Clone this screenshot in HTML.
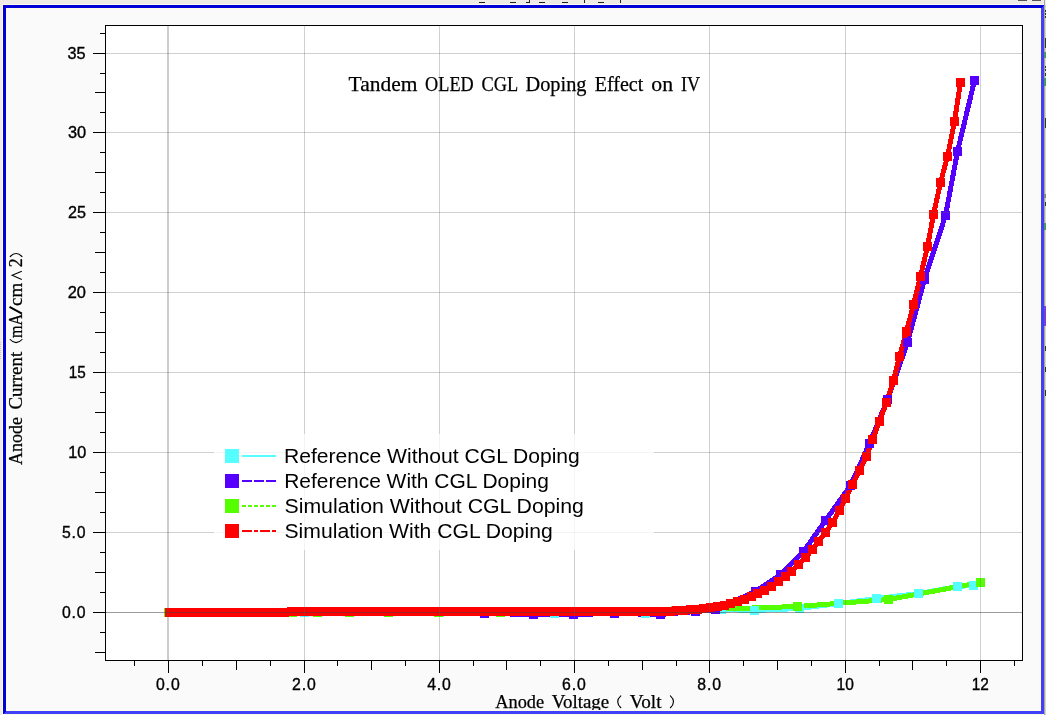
<!DOCTYPE html>
<html><head><meta charset="utf-8"><title>Tandem OLED CGL Doping Effect on IV</title>
<style>html,body{margin:0;padding:0;background:#efebe7;overflow:hidden}svg{display:block;position:absolute;left:0;top:0;will-change:transform}text{font-family:"Liberation Sans",sans-serif;fill:#000}.sf{font-family:"Liberation Serif",serif}</style></head><body>
<svg width="1046" height="715" viewBox="0 0 1046 715">
<g shape-rendering="crispEdges">
<rect x="0" y="0" width="1046" height="715" fill="#efebe7"/>
<rect x="1044" y="0" width="1" height="715" fill="#a6a6a0"/>
<rect x="1045" y="5" width="1" height="710" fill="#d9d6d0"/>
<rect x="1045" y="10" width="1" height="2" fill="#333"/>
<rect x="1045" y="13" width="1" height="2" fill="#333"/>
<rect x="1045" y="16" width="1" height="2" fill="#333"/>
<rect x="1045" y="38" width="1" height="10" fill="#333"/>
<rect x="1045" y="66" width="1" height="2" fill="#333"/>
<rect x="1045" y="69" width="1" height="2" fill="#333"/>
<rect x="1045" y="73" width="1" height="3" fill="#333"/>
<rect x="1045" y="118" width="1" height="10" fill="#333"/>
<rect x="1045" y="202" width="1" height="4" fill="#333"/>
<rect x="1045" y="346" width="1" height="5" fill="#333"/>
<rect x="1045" y="367" width="1" height="5" fill="#333"/>
<rect x="1045" y="390" width="1" height="6" fill="#333"/>
<rect x="1044" y="194" width="2" height="4" fill="#888"/>
<rect x="1044" y="52" width="2" height="6" fill="#4d9a5a"/>
<rect x="1044" y="78" width="2" height="8" fill="#4d9a5a"/>
<rect x="1044" y="223" width="2" height="7" fill="#4d9a5a"/>
<rect x="1044" y="306" width="2" height="20" fill="#7a3fd6"/>
<rect x="0" y="342" width="1" height="1" fill="#cfcbc6"/>
<rect x="0" y="344" width="1" height="1" fill="#cfcbc6"/>
<rect x="0" y="346" width="1" height="1" fill="#cfcbc6"/>
<rect x="0" y="348" width="1" height="1" fill="#cfcbc6"/>
<rect x="0" y="350" width="1" height="1" fill="#cfcbc6"/>
<rect x="0" y="352" width="1" height="1" fill="#cfcbc6"/>
<rect x="0" y="354" width="1" height="1" fill="#cfcbc6"/>
<rect x="0" y="356" width="1" height="1" fill="#cfcbc6"/>
<rect x="0" y="358" width="1" height="1" fill="#cfcbc6"/>
<rect x="479" y="2" width="6" height="1" fill="#222"/>
<rect x="510" y="2" width="6" height="1" fill="#222"/>
<rect x="539" y="2" width="6" height="1" fill="#222"/>
<rect x="562" y="2" width="6" height="1" fill="#222"/>
<rect x="598" y="2" width="6" height="1" fill="#222"/>
<rect x="584" y="0" width="1" height="3" fill="#222"/><rect x="620" y="0" width="1" height="3" fill="#222"/>
<path d="M529 0v2h-3v1h4v-3z" fill="#222"/>
<rect x="1018" y="0" width="9" height="1" fill="#555"/><rect x="1032" y="0" width="9" height="1" fill="#555"/>
<rect x="2" y="4" width="1042" height="711" fill="#fffbe9"/>
<rect x="3" y="5" width="1041" height="709" fill="#0000d8"/>
<path d="M1044 5v709h-1041l3-3h1035v-703z" fill="#4040fa"/>
<rect x="6" y="8" width="1035" height="703" fill="#fffbe9"/>
<rect x="7" y="9" width="1033" height="701" fill="#fafafa"/>
<rect x="105.5" y="25.5" width="917" height="635" fill="#fff" stroke="#000" stroke-width="1"/>
</g>
<g shape-rendering="crispEdges">
<polyline points="168.5,612.5 304.5,612.5 439.5,612.5 554.5,613.5 645.5,613.5 721.5,609.5 754.5,610.5 799.5,608.5 838.5,603.5 876.5,598.5 918.5,593.5 957.5,586.5 973.5,585.5" fill="none" stroke="#55ffff" stroke-width="5" stroke-linejoin="bevel"/>
<polyline points="168.5,612.5 236.5,612.5 304.5,611.5 372.5,611.5 439.5,611.5 484.5,613.5 533.5,614.5 573.5,614.5 614.5,613.5 660.5,614.5 695.5,611.5 715.5,609.5 755.5,591.5 780.5,574.5 803.5,551.5 825.5,520.5 850.5,485.5 869.5,443.5 887.5,399.5 907.5,342.5 924.5,279.5 945.5,215.5 957.5,151.5 974.5,80.5" fill="none" stroke="#5500ff" stroke-width="5" stroke-linejoin="bevel"/>
<polyline points="168.5,612.5 189.5,612.5 205.5,612.5 218.5,612.5 229.5,612.5 242.5,612.5 255.5,612.5 271.5,612.5 292.5,612.5 317.5,612.5 349.5,612.5 388.5,612.5 438.5,612.5 500.5,612.5 578.5,611.5 675.5,610.5 797.5,606.5 888.5,599.5 980.5,582.5" fill="none" stroke="#55ff00" stroke-width="5" stroke-linejoin="bevel"/>
<polyline points="169.5,612.5 176.5,612.5 183.5,612.5 189.5,612.5 196.5,612.5 203.5,612.5 210.5,612.5 216.5,612.5 223.5,612.5 230.5,612.5 237.5,612.5 243.5,612.5 250.5,612.5 257.5,612.5 264.5,612.5 270.5,612.5 277.5,612.5 284.5,612.5 291.5,611.5 298.5,611.5 304.5,611.5 311.5,611.5 318.5,611.5 325.5,611.5 331.5,611.5 338.5,611.5 345.5,611.5 352.5,611.5 358.5,611.5 365.5,611.5 372.5,611.5 379.5,611.5 385.5,611.5 392.5,611.5 399.5,611.5 406.5,611.5 413.5,611.5 419.5,611.5 426.5,611.5 433.5,611.5 440.5,611.5 446.5,611.5 453.5,611.5 460.5,611.5 467.5,611.5 473.5,611.5 480.5,611.5 487.5,611.5 494.5,611.5 500.5,611.5 507.5,611.5 514.5,611.5 521.5,611.5 527.5,611.5 534.5,611.5 541.5,611.5 548.5,611.5 555.5,611.5 561.5,611.5 568.5,611.5 575.5,611.5 582.5,611.5 588.5,611.5 595.5,611.5 602.5,611.5 609.5,611.5 615.5,611.5 622.5,611.5 629.5,611.5 636.5,611.5 642.5,611.5 649.5,611.5 656.5,611.5 663.5,611.5 670.5,611.5 676.5,610.5 683.5,610.5 690.5,609.5 697.5,609.5 703.5,608.5 710.5,607.5 717.5,606.5 724.5,605.5 730.5,603.5 737.5,601.5 744.5,599.5 751.5,596.5 757.5,593.5 764.5,590.5 771.5,586.5 778.5,581.5 785.5,576.5 791.5,571.5 798.5,564.5 805.5,557.5 812.5,549.5 818.5,541.5 825.5,532.5 832.5,522.5 839.5,510.5 845.5,498.5 852.5,484.5 859.5,470.5 866.5,456.5 872.5,439.5 879.5,421.5 886.5,402.5 893.5,380.5 899.5,356.5 906.5,331.5 913.5,304.5 920.5,276.5 927.5,246.5 933.5,214.5 940.5,182.5 947.5,156.5 954.5,121.5 960.5,82.5" fill="none" stroke="#ff0000" stroke-width="5" stroke-linejoin="bevel"/>
<path fill="#55ffff" d="M164 608h9v9h-9zM300 608h9v9h-9zM435 608h9v9h-9zM550 609h9v9h-9zM641 609h9v9h-9zM717 605h9v9h-9zM750 606h9v9h-9zM795 604h9v9h-9zM834 599h9v9h-9zM872 594h9v9h-9zM914 589h9v9h-9zM953 582h9v9h-9zM969 581h9v9h-9z"/>
<path fill="#5500ff" d="M164 608h9v9h-9zM232 608h9v9h-9zM300 607h9v9h-9zM368 607h9v9h-9zM435 607h9v9h-9zM480 609h9v9h-9zM529 610h9v9h-9zM569 610h9v9h-9zM610 609h9v9h-9zM656 610h9v9h-9zM691 607h9v9h-9zM711 605h9v9h-9zM751 587h9v9h-9zM776 570h9v9h-9zM799 547h9v9h-9zM821 516h9v9h-9zM846 481h9v9h-9zM865 439h9v9h-9zM883 395h9v9h-9zM903 338h9v9h-9zM920 275h9v9h-9zM941 211h9v9h-9zM953 147h9v9h-9zM970 76h9v9h-9z"/>
<path fill="#55ff00" d="M164 608h9v9h-9zM185 608h9v9h-9zM201 608h9v9h-9zM214 608h9v9h-9zM225 608h9v9h-9zM238 608h9v9h-9zM251 608h9v9h-9zM267 608h9v9h-9zM288 608h9v9h-9zM313 608h9v9h-9zM345 608h9v9h-9zM384 608h9v9h-9zM434 608h9v9h-9zM496 608h9v9h-9zM574 607h9v9h-9zM671 606h9v9h-9zM793 602h9v9h-9zM884 595h9v9h-9zM976 578h9v9h-9z"/>
<path fill="#ff0000" d="M165 608h9v9h-9zM172 608h9v9h-9zM179 608h9v9h-9zM185 608h9v9h-9zM192 608h9v9h-9zM199 608h9v9h-9zM206 608h9v9h-9zM212 608h9v9h-9zM219 608h9v9h-9zM226 608h9v9h-9zM233 608h9v9h-9zM239 608h9v9h-9zM246 608h9v9h-9zM253 608h9v9h-9zM260 608h9v9h-9zM266 608h9v9h-9zM273 608h9v9h-9zM280 608h9v9h-9zM287 607h9v9h-9zM294 607h9v9h-9zM300 607h9v9h-9zM307 607h9v9h-9zM314 607h9v9h-9zM321 607h9v9h-9zM327 607h9v9h-9zM334 607h9v9h-9zM341 607h9v9h-9zM348 607h9v9h-9zM354 607h9v9h-9zM361 607h9v9h-9zM368 607h9v9h-9zM375 607h9v9h-9zM381 607h9v9h-9zM388 607h9v9h-9zM395 607h9v9h-9zM402 607h9v9h-9zM409 607h9v9h-9zM415 607h9v9h-9zM422 607h9v9h-9zM429 607h9v9h-9zM436 607h9v9h-9zM442 607h9v9h-9zM449 607h9v9h-9zM456 607h9v9h-9zM463 607h9v9h-9zM469 607h9v9h-9zM476 607h9v9h-9zM483 607h9v9h-9zM490 607h9v9h-9zM496 607h9v9h-9zM503 607h9v9h-9zM510 607h9v9h-9zM517 607h9v9h-9zM523 607h9v9h-9zM530 607h9v9h-9zM537 607h9v9h-9zM544 607h9v9h-9zM551 607h9v9h-9zM557 607h9v9h-9zM564 607h9v9h-9zM571 607h9v9h-9zM578 607h9v9h-9zM584 607h9v9h-9zM591 607h9v9h-9zM598 607h9v9h-9zM605 607h9v9h-9zM611 607h9v9h-9zM618 607h9v9h-9zM625 607h9v9h-9zM632 607h9v9h-9zM638 607h9v9h-9zM645 607h9v9h-9zM652 607h9v9h-9zM659 607h9v9h-9zM666 607h9v9h-9zM672 606h9v9h-9zM679 606h9v9h-9zM686 605h9v9h-9zM693 605h9v9h-9zM699 604h9v9h-9zM706 603h9v9h-9zM713 602h9v9h-9zM720 601h9v9h-9zM726 599h9v9h-9zM733 597h9v9h-9zM740 595h9v9h-9zM747 592h9v9h-9zM753 589h9v9h-9zM760 586h9v9h-9zM767 582h9v9h-9zM774 577h9v9h-9zM781 572h9v9h-9zM787 567h9v9h-9zM794 560h9v9h-9zM801 553h9v9h-9zM808 545h9v9h-9zM814 537h9v9h-9zM821 528h9v9h-9zM828 518h9v9h-9zM835 506h9v9h-9zM841 494h9v9h-9zM848 480h9v9h-9zM855 466h9v9h-9zM862 452h9v9h-9zM868 435h9v9h-9zM875 417h9v9h-9zM882 398h9v9h-9zM889 376h9v9h-9zM895 352h9v9h-9zM902 327h9v9h-9zM909 300h9v9h-9zM916 272h9v9h-9zM923 242h9v9h-9zM929 210h9v9h-9zM936 178h9v9h-9zM943 152h9v9h-9zM950 117h9v9h-9zM956 78h9v9h-9z"/>
</g>
<g shape-rendering="crispEdges">
<rect x="304" y="26" width="1" height="634" fill="#646464" fill-opacity="0.3"/>
<rect x="439" y="26" width="1" height="634" fill="#646464" fill-opacity="0.3"/>
<rect x="574" y="26" width="1" height="634" fill="#646464" fill-opacity="0.3"/>
<rect x="709" y="26" width="1" height="634" fill="#646464" fill-opacity="0.3"/>
<rect x="845" y="26" width="1" height="634" fill="#646464" fill-opacity="0.3"/>
<rect x="980" y="26" width="1" height="634" fill="#646464" fill-opacity="0.3"/>
<rect x="106" y="53" width="916" height="1" fill="#646464" fill-opacity="0.3"/>
<rect x="106" y="132" width="916" height="1" fill="#646464" fill-opacity="0.3"/>
<rect x="106" y="212" width="916" height="1" fill="#646464" fill-opacity="0.3"/>
<rect x="106" y="292" width="916" height="1" fill="#646464" fill-opacity="0.3"/>
<rect x="106" y="372" width="916" height="1" fill="#646464" fill-opacity="0.3"/>
<rect x="106" y="452" width="916" height="1" fill="#646464" fill-opacity="0.3"/>
<rect x="106" y="532" width="916" height="1" fill="#646464" fill-opacity="0.3"/>
<rect x="167" y="26" width="2" height="634" fill="#5a5a5a" fill-opacity="0.3"/>
<rect x="106" y="612" width="916" height="1" fill="#424242" fill-opacity="0.53"/>
</g>
<g shape-rendering="crispEdges" fill="#000">
<rect x="95" y="652" width="10" height="1"/>
<rect x="100" y="632" width="5" height="1"/>
<rect x="93" y="612" width="12" height="1"/>
<rect x="100" y="592" width="5" height="1"/>
<rect x="95" y="572" width="10" height="1"/>
<rect x="100" y="552" width="5" height="1"/>
<rect x="93" y="532" width="12" height="1"/>
<rect x="100" y="512" width="5" height="1"/>
<rect x="95" y="492" width="10" height="1"/>
<rect x="100" y="472" width="5" height="1"/>
<rect x="93" y="452" width="12" height="1"/>
<rect x="100" y="432" width="5" height="1"/>
<rect x="95" y="412" width="10" height="1"/>
<rect x="100" y="392" width="5" height="1"/>
<rect x="93" y="372" width="12" height="1"/>
<rect x="100" y="352" width="5" height="1"/>
<rect x="95" y="332" width="10" height="1"/>
<rect x="100" y="312" width="5" height="1"/>
<rect x="93" y="292" width="12" height="1"/>
<rect x="100" y="272" width="5" height="1"/>
<rect x="95" y="252" width="10" height="1"/>
<rect x="100" y="232" width="5" height="1"/>
<rect x="93" y="212" width="12" height="1"/>
<rect x="100" y="192" width="5" height="1"/>
<rect x="95" y="172" width="10" height="1"/>
<rect x="100" y="152" width="5" height="1"/>
<rect x="93" y="132" width="12" height="1"/>
<rect x="100" y="112" width="5" height="1"/>
<rect x="95" y="92" width="10" height="1"/>
<rect x="100" y="73" width="5" height="1"/>
<rect x="93" y="53" width="12" height="1"/>
<rect x="100" y="33" width="5" height="1"/>
<rect x="134" y="661" width="1" height="5"/>
<rect x="168" y="661" width="1" height="12"/>
<rect x="202" y="661" width="1" height="5"/>
<rect x="236" y="661" width="1" height="9"/>
<rect x="270" y="661" width="1" height="5"/>
<rect x="304" y="661" width="1" height="12"/>
<rect x="337" y="661" width="1" height="5"/>
<rect x="371" y="661" width="1" height="9"/>
<rect x="405" y="661" width="1" height="5"/>
<rect x="439" y="661" width="1" height="12"/>
<rect x="473" y="661" width="1" height="5"/>
<rect x="506" y="661" width="1" height="9"/>
<rect x="540" y="661" width="1" height="5"/>
<rect x="574" y="661" width="1" height="12"/>
<rect x="608" y="661" width="1" height="5"/>
<rect x="642" y="661" width="1" height="9"/>
<rect x="676" y="661" width="1" height="5"/>
<rect x="709" y="661" width="1" height="12"/>
<rect x="743" y="661" width="1" height="5"/>
<rect x="777" y="661" width="1" height="9"/>
<rect x="811" y="661" width="1" height="5"/>
<rect x="845" y="661" width="1" height="12"/>
<rect x="879" y="661" width="1" height="5"/>
<rect x="912" y="661" width="1" height="9"/>
<rect x="946" y="661" width="1" height="5"/>
<rect x="980" y="661" width="1" height="12"/>
<rect x="1014" y="661" width="1" height="5"/>
</g>
<rect x="214" y="434" width="440" height="116" fill="#fff" fill-opacity="0.76"/>
<g shape-rendering="crispEdges">
<rect x="225" y="449" width="14" height="14" fill="#55ffff"/>
<rect x="225" y="474" width="14" height="14" fill="#5500ff"/>
<rect x="225" y="499" width="14" height="14" fill="#55ff00"/>
<rect x="225" y="524" width="14" height="14" fill="#ff0000"/>
<line x1="242" y1="456" x2="276" y2="456" stroke="#55ffff" stroke-width="2"/>
<line x1="242" y1="481" x2="276" y2="481" stroke="#5500ff" stroke-width="2" stroke-dasharray="10 2"/>
<line x1="242" y1="506" x2="276" y2="506" stroke="#55ff00" stroke-width="2" stroke-dasharray="4 2"/>
<line x1="242" y1="531" x2="276" y2="531" stroke="#ff0000" stroke-width="2" stroke-dasharray="10 2 4 2"/>
</g>
<text x="283.91" y="462.7" font-size="19.5" textLength="295.92" lengthAdjust="spacingAndGlyphs">Reference Without CGL Doping</text>
<text x="284.17" y="487.7" font-size="19.5" textLength="264.68" lengthAdjust="spacingAndGlyphs">Reference With CGL Doping</text>
<text x="284.51" y="512.7" font-size="19.5" textLength="299.43" lengthAdjust="spacingAndGlyphs">Simulation Without CGL Doping</text>
<text x="284.53" y="537.7" font-size="19.5" textLength="268.30" lengthAdjust="spacingAndGlyphs">Simulation With CGL Doping</text>
<text x="155.88" y="689.8" font-size="15.8" textLength="23.85" lengthAdjust="spacing" stroke="#000" stroke-width="0.35">0.0</text>
<text x="291.93" y="689.8" font-size="15.8" textLength="23.88" lengthAdjust="spacing" stroke="#000" stroke-width="0.35">2.0</text>
<text x="427.22" y="689.8" font-size="15.8" textLength="23.59" lengthAdjust="spacing" stroke="#000" stroke-width="0.35">4.0</text>
<text x="562.09" y="689.8" font-size="15.8" textLength="23.72" lengthAdjust="spacing" stroke="#000" stroke-width="0.35">6.0</text>
<text x="697.23" y="689.8" font-size="15.8" textLength="23.74" lengthAdjust="spacing" stroke="#000" stroke-width="0.35">8.0</text>
<text x="836.62" y="689.8" font-size="15.8" textLength="17.29" lengthAdjust="spacingAndGlyphs" stroke="#000" stroke-width="0.35">10</text>
<text x="971.82" y="689.8" font-size="15.8" textLength="17.13" lengthAdjust="spacingAndGlyphs" stroke="#000" stroke-width="0.35">12</text>
<text x="67.54" y="58.8" font-size="15.8" textLength="18.07" lengthAdjust="spacingAndGlyphs" stroke="#000" stroke-width="0.35">35</text>
<text x="68.02" y="137.8" font-size="15.8" textLength="18.15" lengthAdjust="spacingAndGlyphs" stroke="#000" stroke-width="0.35">30</text>
<text x="67.96" y="217.8" font-size="15.8" textLength="17.99" lengthAdjust="spacingAndGlyphs" stroke="#000" stroke-width="0.35">25</text>
<text x="67.65" y="297.8" font-size="15.8" textLength="18.25" lengthAdjust="spacingAndGlyphs" stroke="#000" stroke-width="0.35">20</text>
<text x="68.74" y="377.8" font-size="15.8" textLength="17.02" lengthAdjust="spacingAndGlyphs" stroke="#000" stroke-width="0.35">15</text>
<text x="68.25" y="457.8" font-size="15.8" textLength="18.09" lengthAdjust="spacingAndGlyphs" stroke="#000" stroke-width="0.35">10</text>
<text x="61.93" y="537.8" font-size="15.8" textLength="23.62" lengthAdjust="spacing" stroke="#000" stroke-width="0.35">5.0</text>
<text x="61.88" y="617.8" font-size="15.8" textLength="23.66" lengthAdjust="spacing" stroke="#000" stroke-width="0.35">0.0</text>
<text class="sf" x="348.60" y="90.8" font-size="21.4" textLength="68.79" lengthAdjust="spacingAndGlyphs" stroke="#000" stroke-width="0.25">Tandem</text>
<text class="sf" x="425.12" y="90.8" font-size="21.4" textLength="48.64" lengthAdjust="spacingAndGlyphs" stroke="#000" stroke-width="0.25">OLED</text>
<text class="sf" x="481.54" y="90.8" font-size="21.4" textLength="36.73" lengthAdjust="spacingAndGlyphs" stroke="#000" stroke-width="0.25">CGL</text>
<text class="sf" x="525.48" y="90.8" font-size="21.4" textLength="61.06" lengthAdjust="spacingAndGlyphs" stroke="#000" stroke-width="0.25">Doping</text>
<text class="sf" x="594.74" y="90.8" font-size="21.4" textLength="48.55" lengthAdjust="spacingAndGlyphs" stroke="#000" stroke-width="0.25">Effect</text>
<text class="sf" x="651.24" y="90.8" font-size="21.4" textLength="21.79" lengthAdjust="spacingAndGlyphs" stroke="#000" stroke-width="0.25">on</text>
<text class="sf" x="681.00" y="90.8" font-size="21.4" textLength="19.20" lengthAdjust="spacingAndGlyphs" stroke="#000" stroke-width="0.25">IV</text>
<clipPath id="cb"><rect x="7" y="9" width="1033" height="701"/></clipPath><g clip-path="url(#cb)">
<text class="sf" x="495.26" y="707.9" font-size="18.8" textLength="48.91" lengthAdjust="spacingAndGlyphs" stroke="#000" stroke-width="0.25">Anode</text>
<text class="sf" x="551.74" y="707.9" font-size="18.8" textLength="57.40" lengthAdjust="spacingAndGlyphs" stroke="#000" stroke-width="0.25">Voltage</text>
<text class="sf" x="629.89" y="707.9" font-size="18.8" textLength="31.62" lengthAdjust="spacingAndGlyphs" stroke="#000" stroke-width="0.25">Volt</text>
<path d="M620.8 695.9 C616.7 699.5 616.7 704.1 620.8 707.7 M670.4 695.9 C674.5 699.5 674.5 704.1 670.4 707.7" fill="none" stroke="#000" stroke-width="1.15" stroke-linecap="round"/>
</g>
<g transform="translate(22.2 0) rotate(-90)">
<text class="sf" x="-464.91" y="0" font-size="18.8" textLength="47.88" lengthAdjust="spacingAndGlyphs" stroke="#000" stroke-width="0.25">Anode</text>
<text class="sf" x="-409.59" y="0" font-size="18.8" textLength="57.76" lengthAdjust="spacingAndGlyphs" stroke="#000" stroke-width="0.25">Current</text>
<text class="sf" x="-338.05" y="0" font-size="18.8" textLength="24.21" lengthAdjust="spacingAndGlyphs" stroke="#000" stroke-width="0.25">mA</text>
<text class="sf" x="-306.04" y="0" font-size="18.8" textLength="23.16" lengthAdjust="spacingAndGlyphs" stroke="#000" stroke-width="0.25">cm</text>
<text class="sf" x="-267.18" y="0" font-size="18.8" textLength="8.89" lengthAdjust="spacingAndGlyphs" stroke="#000" stroke-width="0.25">2</text>
</g>
<path d="M10.2 339.5 C13.8 343.7 18.4 343.7 22 339.5 M10.2 256.6 C13.8 252.4 18.4 252.4 22 256.6" fill="none" stroke="#000" stroke-width="1.15" stroke-linecap="round"/>
<path d="M21.8 279.5 L12.1 275.35 L21.8 271.2" fill="none" stroke="#000" stroke-width="1.05" stroke-linejoin="miter"/>
<path d="M21.9 313.6 L9.5 306.8" fill="none" stroke="#000" stroke-width="2.1"/>
</svg></body></html>
